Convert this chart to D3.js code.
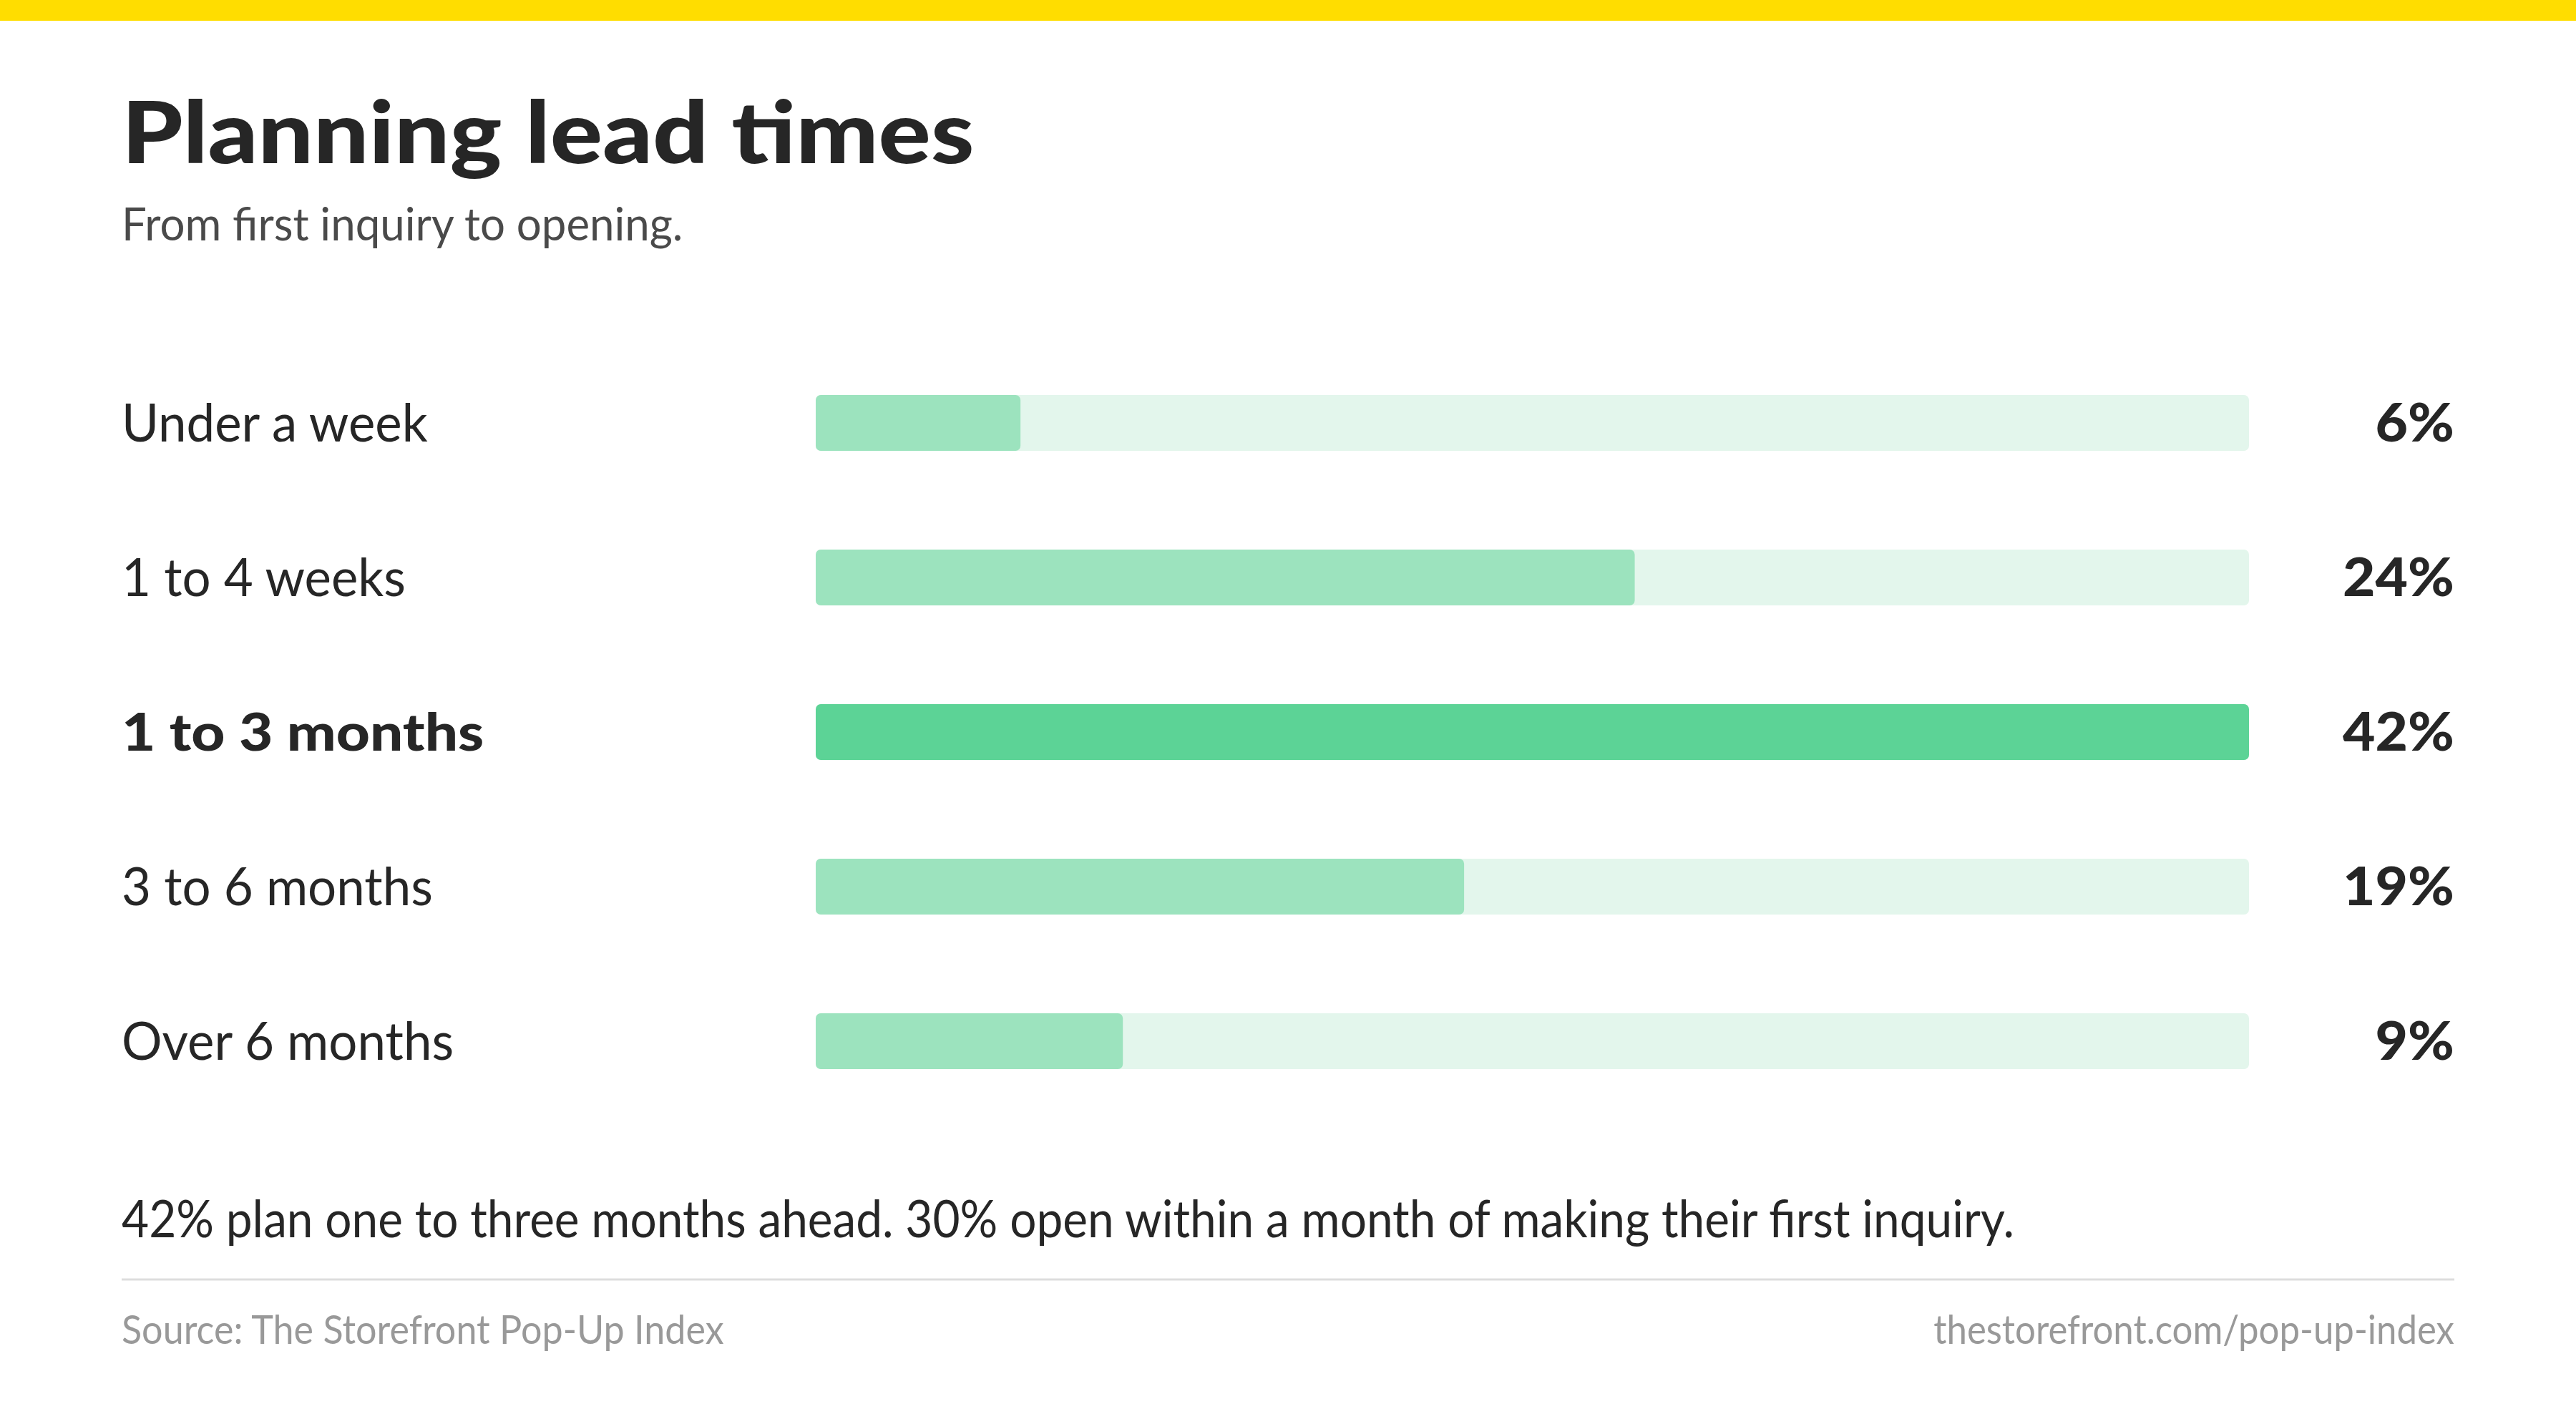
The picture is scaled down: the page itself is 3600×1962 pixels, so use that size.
<!DOCTYPE html>
<html>
<head>
<meta charset="utf-8">
<script src="https://cdn.jsdelivr.net/npm/d3@7"></script>
<style>
  html, body { margin: 0; padding: 0; background: #fff; }
  svg { display: block; }
  text { font-family: Lato, "Noto Sans", sans-serif; }
</style>
</head>
<body>
<svg id="chart" width="3600" height="1962"></svg>
<script>
// chart values
const categories = ["Under a week", "1 to 4 weeks", "1 to 3 months", "3 to 6 months", "Over 6 months"];
const shares = [6, 24, 42, 19, 9];
const highlighted = ["1 to 3 months"];

const title = "Planning lead times";
const subtitle = "From first inquiry to opening.";
const note = "42% plan one to three months ahead. 30% open within a month of making their first inquiry.";
const source = "Source: The Storefront Pop-Up Index";
const site = "thestorefront.com/pop-up-index";

const W = 3600, H = 1962;
const left = 170, right = 3430;

const svg = d3.select("#chart");

// the original face is a geometric sans; Lato is wider/narrower per weight,
// so stretch each text a bit to get the same run length
function widen(sel, k) {
  sel.each(function () {
    const n = this.getComputedTextLength();
    d3.select(this)
      .attr("textLength", n * k)
      .attr("lengthAdjust", "spacingAndGlyphs");
  });
  return sel;
}

svg.append("rect")
  .attr("x", 0).attr("y", 0)
  .attr("width", W).attr("height", 29)
  .attr("fill", "#FFDD00");

svg.append("text")
  .attr("x", left).attr("y", 228)
  .attr("font-size", 120)
  .attr("font-weight", 900)
  .attr("fill", "#262626")
  .text(title)
  .call(widen, 1.14);

svg.append("text")
  .attr("x", left).attr("y", 336)
  .attr("font-size", 63)
  .attr("fill", "#4a4a4a")
  .text(subtitle)
  .call(widen, 0.98);

const rows = categories.map((c, i) => ({cat: c, value: shares[i], hi: highlighted.includes(c)}));

const pad = 1 - 78 / 216;
const y = d3.scaleBand()
  .domain(categories)
  .range([483, 1563])
  .paddingInner(pad)
  .paddingOuter(pad / 2);

const x = d3.scaleLinear()
  .domain([0, d3.max(shares)])
  .range([1140, 3143]);

const g = svg.append("g");

// track
g.selectAll("rect.track")
  .data(rows)
  .join("rect")
  .attr("class", "track")
  .attr("x", x(0))
  .attr("y", d => y(d.cat))
  .attr("width", x.range()[1] - x(0))
  .attr("height", y.bandwidth())
  .attr("rx", 7)
  .attr("fill", "#E3F6EC");

// value bar
g.selectAll("rect.bar")
  .data(rows)
  .join("rect")
  .attr("class", "bar")
  .attr("x", x(0))
  .attr("y", d => y(d.cat))
  .attr("width", d => x(d.value) - x(0))
  .attr("height", y.bandwidth())
  .attr("rx", 7)
  .attr("fill", d => d.hi ? "#5CD396" : "#9CE3BE");

// category labels
g.selectAll("text.cat")
  .data(rows)
  .join("text")
  .attr("class", "cat")
  .attr("x", left)
  .attr("y", d => y(d.cat) + y.bandwidth() / 2 + 26)
  .attr("font-size", 73)
  .attr("font-weight", d => d.hi ? 900 : 400)
  .attr("fill", "#262626")
  .text(d => d.cat)
  .each(function (d) { d3.select(this).call(widen, d.hi ? 1.12 : 0.97); });

// value labels
g.selectAll("text.val")
  .data(rows)
  .join("text")
  .attr("class", "val")
  .attr("x", right)
  .attr("y", d => y(d.cat) + y.bandwidth() / 2 + 26)
  .attr("text-anchor", "end")
  .attr("font-size", 74)
  .attr("font-weight", 900)
  .attr("fill", "#262626")
  .text(d => d.value + "%")
  .call(widen, 1.06);

svg.append("text")
  .attr("x", left).attr("y", 1729)
  .attr("font-size", 72)
  .attr("fill", "#262626")
  .text(note)
  .call(widen, 0.913);

svg.append("line")
  .attr("x1", left).attr("x2", right)
  .attr("y1", 1788).attr("y2", 1788)
  .attr("stroke", "#dddddd")
  .attr("stroke-width", 3);

svg.append("text")
  .attr("x", left).attr("y", 1878)
  .attr("font-size", 56)
  .attr("fill", "#999999")
  .text(source)
  .call(widen, 0.93);

svg.append("text")
  .attr("x", right).attr("y", 1878)
  .attr("text-anchor", "end")
  .attr("font-size", 56)
  .attr("fill", "#999999")
  .text(site)
  .call(widen, 0.91);
</script>
</body>
</html>
